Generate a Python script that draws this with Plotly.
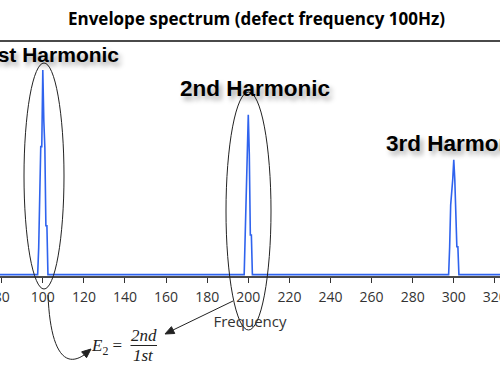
import math
import plotly.graph_objects as go

# ---- data ----
freq_hz = [79, 97.5, 98, 98.5, 99, 99.5, 100, 100.5, 101, 101.5, 102, 102.5,
           198, 198.5, 199, 199.5, 200, 200.5, 201, 201.5, 202,
           297.5, 298, 298.5, 299.5, 300, 300.5, 301, 301.5, 302, 302.5, 323]
amplitude = [0, 0, 0.115, 0.32, 0.55, 0.55, 0.88, 0.66, 0.545, 0.21, 0.21, 0,
             0, 0.17, 0.43, 0.515, 0.687, 0.515, 0.17, 0.17, 0,
             0, 0.12, 0.30, 0.41, 0.494, 0.41, 0.30, 0.12, 0.12, 0, 0]
tick_vals = [80, 100, 120, 140, 160, 180, 200, 220, 240, 260, 280, 300, 320]
tick_text = [str(v) for v in tick_vals]
harmonic_labels = ["1st Harmonic", "2nd Harmonic", "3rd Harmonic"]
title_text = "Envelope spectrum (defect frequency 100Hz)"
x_title = "Frequency"

W, H = 500, 375
TOP, BOTTOM = 42, 276


def px(x):
    return x / W


def py(y):
    return (BOTTOM - y) / (BOTTOM - TOP)


def p(x, y):
    return f"{px(x):.5f},{py(y):.5f}"


def head(tip, tail, length=9, half=3.8):
    dx, dy = tip[0] - tail[0], tip[1] - tail[1]
    n = math.hypot(dx, dy)
    ux, uy = dx / n, dy / n
    bx, by = tip[0] - length * ux, tip[1] - length * uy
    nx, ny = -uy, ux
    return (f"M {p(*tip)} L {p(bx + half * nx, by + half * ny)} "
            f"L {p(bx - half * nx, by - half * ny)} Z")


fig = go.Figure()
fig.add_trace(go.Scatter(x=freq_hz, y=amplitude, mode="lines",
                         line=dict(color="#2f63ee", width=1.6),
                         hoverinfo="skip", showlegend=False))

dark = "#222"
shapes = []
# ellipses
shapes.append(dict(type="circle", xref="paper", yref="paper",
                   x0=px(24), x1=px(64), y0=py(289), y1=py(63),
                   line=dict(color=dark, width=1)))
shapes.append(dict(type="circle", xref="paper", yref="paper",
                   x0=px(226), x1=px(271), y0=py(330), y1=py(92),
                   line=dict(color=dark, width=1)))
# curved arrow body + head
shapes.append(dict(type="path", xref="paper", yref="paper",
                   path=f"M {p(48,295)} C {p(50,345)} {p(62,370)} {p(84,355)}",
                   line=dict(color=dark, width=1)))
shapes.append(dict(type="path", xref="paper", yref="paper",
                   path=head((91, 349), (82, 356.5)),
                   fillcolor=dark, line=dict(color=dark, width=1)))
# straight arrow body + head
shapes.append(dict(type="path", xref="paper", yref="paper",
                   path=f"M {p(233,301)} L {p(172,330.5)}",
                   line=dict(color=dark, width=1)))
shapes.append(dict(type="path", xref="paper", yref="paper",
                   path=head((165, 334), (233, 301)),
                   fillcolor=dark, line=dict(color=dark, width=1)))

shadow = "3px 4px 5px rgba(0,0,0,0.35)"
annotations = [
    dict(text=harmonic_labels[0], x=px(121), y=py(54), xanchor="right", yanchor="middle",
         size=21),
    dict(text=harmonic_labels[1], x=px(255), y=py(89), xanchor="center", yanchor="middle",
         size=22.5),
    dict(text=harmonic_labels[2], x=px(384), y=py(143), xanchor="left", yanchor="middle",
         size=22.5),
]
for a in annotations:
    s = a.pop("size")
    a.update(xref="paper", yref="paper", showarrow=False,
             font=dict(family="Liberation Sans", size=s, color="black",
                       weight="bold", shadow=shadow))

mfont = dict(family="Liberation Serif", size=17, color=dark)
annotations += [
    dict(text="<i>E</i><sub>2</sub> =", x=px(89), y=py(347), xanchor="left", yanchor="middle",
         xref="paper", yref="paper", showarrow=False, font=mfont),
    dict(text="<i>2nd</i>", x=px(143.5), y=py(335), xanchor="center", yanchor="middle",
         xref="paper", yref="paper", showarrow=False, font=mfont),
    dict(text="<i>1st</i>", x=px(143.5), y=py(355), xanchor="center", yanchor="middle",
         xref="paper", yref="paper", showarrow=False, font=mfont),
    # fraction bar drawn as a headless annotation arrow
    dict(text="", x=px(157), y=py(345.5), ax=-28, ay=0, xref="paper", yref="paper",
         showarrow=True, arrowhead=0, arrowwidth=1, arrowcolor=dark,
         standoff=0, startstandoff=0),
]

fig.update_layout(
    width=W, height=H,
    margin=dict(l=0, r=0, t=TOP, b=H - BOTTOM, autoexpand=False),
    paper_bgcolor="white", plot_bgcolor="white",
    title=dict(text=f"<b>{title_text}</b>", x=0.513, xanchor="center",
               y=1 - 19 / H, yanchor="middle", yref="container", automargin=False,
               font=dict(family="Open Sans", size=17, color="black")),
    xaxis=dict(range=[79.17, 322.5], tickvals=tick_vals, ticktext=tick_text,
               ticks="outside", ticklen=5, tickcolor="#333", tickwidth=1,
               showline=True, mirror=True, linecolor="#4a4a4a", linewidth=2,
               showgrid=False, zeroline=False, automargin=False,
               ticklabeloverflow="allow", ticklabelstandoff=2,
               tickfont=dict(family="Open Sans", size=14, color="#333"),
               title=dict(text=x_title, standoff=12,
                          font=dict(family="Open Sans", size=15, color="#333"))),
    yaxis=dict(range=[-0.006, 1], visible=False, showgrid=False, zeroline=False,
               automargin=False),
    shapes=shapes,
    annotations=annotations,
    showlegend=False,
)

fig.write_html("out.html", config={"displayModeBar": False},
               post_script="document.body.style.margin='0';document.body.style.overflow='hidden';")
